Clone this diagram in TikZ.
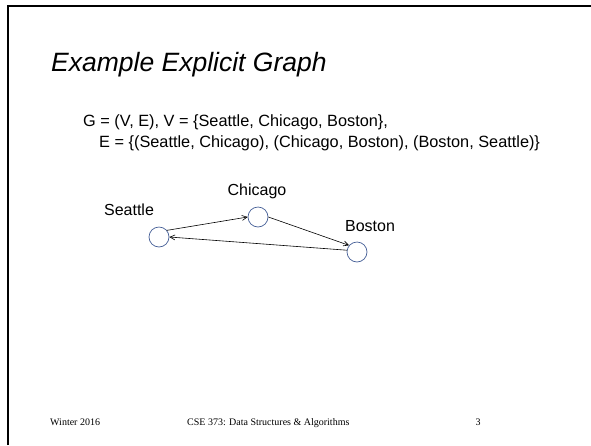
\documentclass[tikz,border=0pt]{standalone}
\usepackage{fontspec}
\setmainfont{Liberation Serif}
\setsansfont{Liberation Sans}
\usetikzlibrary{arrows.meta}
\definecolor{circblue}{RGB}{68,94,150}
\tikzset{
  vertex/.style={circle, draw=circblue, line width=0.7pt, minimum size=20pt, inner sep=0pt},
  vlabel/.style={font=\sffamily\fontsize{16}{18}\selectfont, inner sep=0pt},
  body/.style={font=\sffamily\fontsize{16.3}{20}\selectfont, inner sep=0pt, anchor=base west},
  foot/.style={font=\rmfamily\fontsize{10}{12}\selectfont, inner sep=0pt, anchor=base},
  edge/.style={draw=black, line width=0.6pt, -{Straight Barb[length=5pt,width=5pt]}}
}
\begin{document}
\begin{tikzpicture}[x=1pt,y=-1pt]
\useasboundingbox (0,0) rectangle (591,445);
\draw[line width=2.2pt] (8,445) -- (8,6) -- (591,6);
\node[inner sep=0pt, anchor=base west, font=\sffamily\itshape\fontsize{26.5}{32}\selectfont] (title) at (51,71) {Example Explicit Graph};
\node[body] (l1) at (83,126) {G = (V, E), V = \{Seattle, Chicago, Boston\},};
\node[body] (l2) at (99,147) {E = \{(Seattle, Chicago), (Chicago, Boston), (Boston, Seattle)\}};
\node[vlabel] (ls) at (129,210) {Seattle};
\node[vlabel] (lc) at (257,191) {Chicago};
\node[vlabel] (lb) at (370,226) {Boston};
\node[vertex] (s) at (159,237) {};
\node[vertex] (c) at (258,217) {};
\node[vertex] (b) at (357,252) {};
\draw[edge] (s.40) -- (c.180);
\draw[edge] (c.0) -- (b.140);
\draw[edge] (b.170) -- (s.0);
\node[foot, anchor=base west] (f1) at (50,425) {Winter 2016};
\node[foot, anchor=base west] (f2) at (187,425) {CSE 373: Data Structures \& Algorithms};
\node[foot] (f3) at (478,425) {3};
\end{tikzpicture}
\end{document}
